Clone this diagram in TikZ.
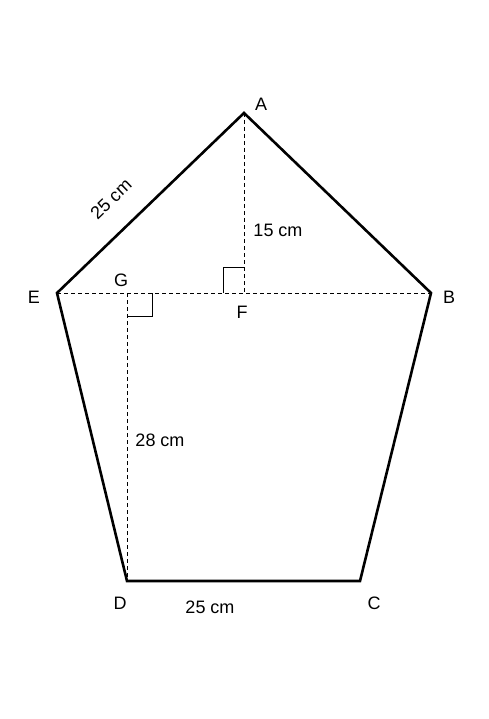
\documentclass[tikz,border=0pt]{standalone}
\usepackage{fontspec}
\setmainfont{Liberation Sans}
\begin{document}
\begin{tikzpicture}[x=1pt,y=-1pt,
  side/.style={line width=2.6pt,line join=miter},
  aux/.style={line width=0.8pt,dash pattern=on 4pt off 3pt},
  rightmark/.style={line width=0.9pt},
  lbl/.style={font=\fontsize{18}{21}\selectfont,inner sep=0pt}]
\useasboundingbox (0,0) rectangle (488,719);
\fill[white] (0,0) rectangle (488,719);
\coordinate (A) at (244,113);
\coordinate (B) at (431,293);
\coordinate (C) at (360,581);
\coordinate (D) at (127,581);
\coordinate (E) at (57,293);
\coordinate (F) at (244,293);
\coordinate (G) at (127,293);
\draw[aux] (E) -- (B);
\draw[aux] (A) -- (F);
\draw[aux] (G) -- (D);
\draw[rightmark] (223,293) -- (223,267) -- (244,267);
\draw[rightmark] (127,316) -- (152,316) -- (152,293);
\draw[side] (A) -- (B) -- (C) -- (D) -- (E) -- cycle;
\node[lbl] (lA) at (261,104) {A};
\node[lbl] (lB) at (449,297) {B};
\node[lbl] (lC) at (374,603) {C};
\node[lbl] (lD) at (120,603) {D};
\node[lbl] (lE) at (34,297) {E};
\node[lbl] (lF) at (242,312) {F};
\node[lbl] (lG) at (121,280) {G};
\node[lbl,rotate=43.9] (lAE) at (111,199) {25 cm};
\node[lbl] (lAF) at (278,230) {15 cm};
\node[lbl] (lGD) at (160,440) {28 cm};
\node[lbl] (lDC) at (210,607) {25 cm};
\end{tikzpicture}
\end{document}
